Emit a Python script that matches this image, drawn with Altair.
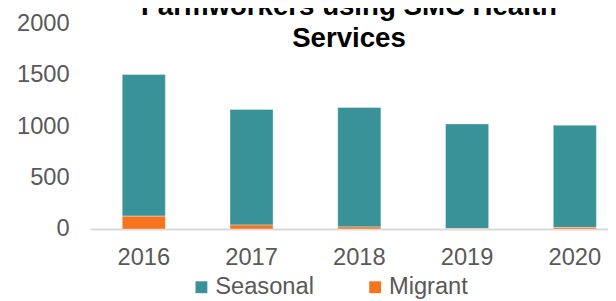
import altair as alt
import pandas as pd

years = ["2016", "2017", "2018", "2019", "2020"]
seasonal = [1380, 1127, 1164, 1019, 996]
migrant = [125, 38, 20, 5, 15]
series = ["Seasonal", "Migrant"]
colors = ["#3A9299", "#F7741F"]
y_ticks = [0, 500, 1000, 1500, 2000]
title_lines = ["Farmworkers using SMC Health", "Services"]

rows = []
for i, yr in enumerate(years):
    rows.append({"year": yr, "series": "Seasonal", "value": seasonal[i], "ord": 1})
    rows.append({"year": yr, "series": "Migrant", "value": migrant[i], "ord": 0})
df = pd.DataFrame(rows)

FONT = "Liberation Sans"
GREY = "#595959"

chart = alt.Chart(df).mark_bar(
    stroke="#ffffff", strokeWidth=1, strokeOpacity=0.35
).encode(
    x=alt.X(
        "year:N",
        sort=years,
        title=None,
        scale=alt.Scale(range=[0, 546], paddingInner=0.6, paddingOuter=0.3),
        axis=alt.Axis(
            labelAngle=0, labelFont=FONT, labelFontSize=24, labelColor=GREY,
            ticks=False, tickSize=0, labelPadding=17,
            domainColor="#D9D9D9", domainWidth=2, grid=False,
        ),
    ),
    y=alt.Y(
        "value:Q",
        stack="zero",
        title=None,
        scale=alt.Scale(domain=[0, 2000], nice=False),
        axis=alt.Axis(
            values=y_ticks, format="d", labelFont=FONT, labelFontSize=24,
            labelColor=GREY, ticks=False, tickSize=0, domain=False, grid=False,
            labelPadding=21,
        ),
    ),
    color=alt.Color(
        "series:N",
        scale=alt.Scale(domain=series, range=colors),
        legend=alt.Legend(
            title=None, orient="none", legendX=101, legendY=255,
            direction="horizontal", symbolType="square", symbolSize=144,
            symbolStrokeWidth=0, labelFont=FONT, labelFontSize=24,
            labelColor=GREY, labelOffset=2, columnPadding=49, padding=0,
        ),
    ),
    order=alt.Order("ord:Q"),
).properties(
    width=525,
    height=208,
    padding={"left": 83, "top": 14, "right": 0, "bottom": 71},
    autosize=alt.AutoSizeParams(type="none"),
    title=alt.TitleParams(
        text=title_lines, font=FONT, fontSize=28, fontWeight="bold",
        color="#000000", anchor="middle", frame="group", baseline="alphabetic",
        lineHeight=33, offset=-64,
    ),
).configure_view(stroke=None)

chart.save("out.html", embed_options={"renderer": "svg", "actions": False})
